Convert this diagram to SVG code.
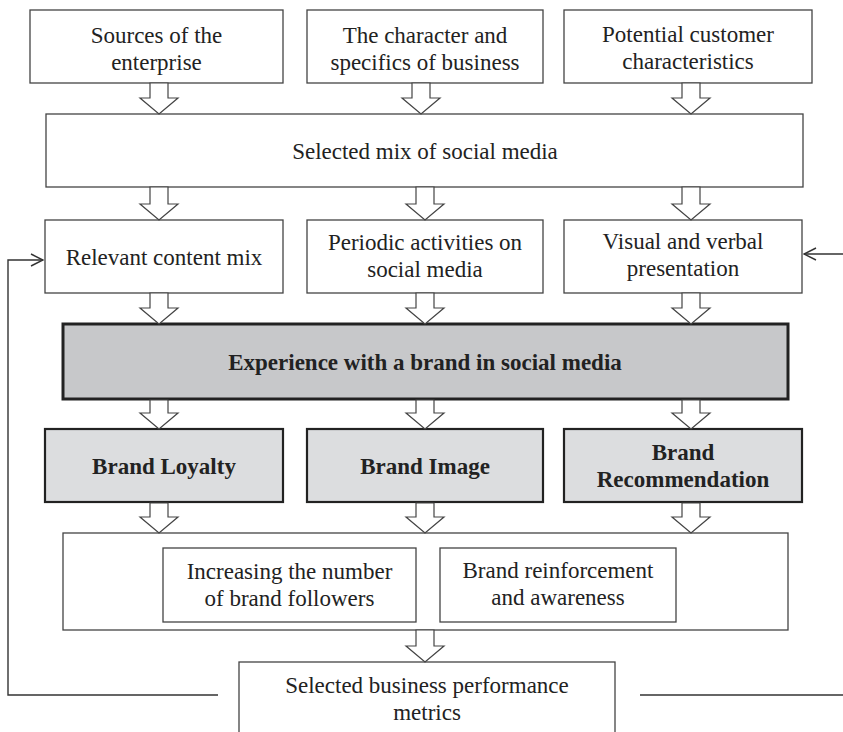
<svg xmlns="http://www.w3.org/2000/svg" width="843" height="732" viewBox="0 0 843 732">
<defs>
<style>
.box{fill:#fff;stroke:#444;stroke-width:1.3}
.exp{fill:#c7c8ca;stroke:#222;stroke-width:3}
.res{fill:#dcdddf;stroke:#222;stroke-width:2.2}
.t{font-family:"Liberation Serif","Times New Roman",serif;font-size:23px;fill:#222;text-anchor:middle}
.b{font-weight:bold}
.arr{fill:#fff;stroke:#444;stroke-width:1.2;stroke-linejoin:miter}
.ln{fill:none;stroke:#333;stroke-width:1.4}
</style>
<marker id="open" viewBox="0 0 14 14" refX="13" refY="7" markerWidth="14" markerHeight="14" markerUnits="userSpaceOnUse" orient="auto">
<path d="M1,1 L13,7 L1,13" fill="none" stroke="#333" stroke-width="1.4"/>
</marker>
</defs>
<rect width="843" height="732" fill="#fff"/>

<g id="n-sources"><rect class="box" x="30" y="10" width="253" height="73"/><text class="t" x="156.5" y="43">Sources of the</text><text class="t" x="156.5" y="70">enterprise</text></g>
<g id="n-character"><rect class="box" x="307" y="10" width="236" height="73"/><text class="t" x="425" y="43">The character and</text><text class="t" x="425" y="70">specifics of business</text></g>
<g id="n-customer"><rect class="box" x="564" y="10" width="248" height="73"/><text class="t" x="688" y="42">Potential customer</text><text class="t" x="688" y="69">characteristics</text></g>

<g id="n-mix"><rect class="box" x="46" y="114" width="757" height="73"/><text class="t" x="425" y="159">Selected mix of social media</text></g>

<g id="n-content"><rect class="box" x="45" y="220" width="238" height="73"/><text class="t" x="164" y="265">Relevant content mix</text></g>
<g id="n-periodic"><rect class="box" x="307" y="220" width="236" height="73"/><text class="t" x="425" y="250">Periodic activities on</text><text class="t" x="425" y="277">social media</text></g>
<g id="n-visual"><rect class="box" x="564" y="220" width="238" height="73"/><text class="t" x="683" y="249">Visual and verbal</text><text class="t" x="683" y="276">presentation</text></g>

<g id="n-experience"><rect class="exp" x="63" y="324" width="725" height="75"/><text class="t b" x="425" y="370">Experience with a brand in social media</text></g>

<g id="n-loyalty"><rect class="res" x="45" y="429" width="238" height="73"/><text class="t b" x="164" y="474">Brand Loyalty</text></g>
<g id="n-image"><rect class="res" x="307" y="429" width="236" height="73"/><text class="t b" x="425" y="474">Brand Image</text></g>
<g id="n-recommend"><rect class="res" x="564" y="429" width="238" height="73"/><text class="t b" x="683" y="460">Brand</text><text class="t b" x="683" y="487">Recommendation</text></g>

<g id="n-outcomes"><rect class="box" x="63" y="533" width="725" height="97"/></g>
<g id="n-followers"><rect class="box" x="163" y="548" width="253" height="74"/><text class="t" x="289.5" y="579">Increasing the number</text><text class="t" x="289.5" y="606">of brand followers</text></g>
<g id="n-awareness"><rect class="box" x="440" y="548" width="236" height="74"/><text class="t" x="558" y="578">Brand reinforcement</text><text class="t" x="558" y="605">and awareness</text></g>

<g id="n-metrics"><rect class="box" x="239" y="662" width="376" height="80"/><text class="t" x="427" y="693">Selected business performance</text><text class="t" x="427" y="720">metrics</text></g>

<g id="connectors">
<!-- block arrows: cx, y0 -> y1 -->
<polygon class="arr" points="150,83 168,83 168,98 178,98 159,114 140,98 150,98"/>
<polygon class="arr" points="412,83 430,83 430,98 440,98 421,114 402,98 412,98"/>
<polygon class="arr" points="682,83 700,83 700,98 710,98 691,114 672,98 682,98"/>

<polygon class="arr" points="150,187 168,187 168,204 178,204 159,220 140,204 150,204"/>
<polygon class="arr" points="416,187 434,187 434,204 444,204 425,220 406,204 416,204"/>
<polygon class="arr" points="682,187 700,187 700,204 710,204 691,220 672,204 682,204"/>

<polygon class="arr" points="150,293 168,293 168,308 178,308 159,324 140,308 150,308"/>
<polygon class="arr" points="416,293 434,293 434,308 444,308 425,324 406,308 416,308"/>
<polygon class="arr" points="682,293 700,293 700,308 710,308 691,324 672,308 682,308"/>

<polygon class="arr" points="150,400 168,400 168,413 178,413 159,429 140,413 150,413"/>
<polygon class="arr" points="416,400 434,400 434,413 444,413 425,429 406,413 416,413"/>
<polygon class="arr" points="682,400 700,400 700,413 710,413 691,429 672,413 682,413"/>

<polygon class="arr" points="150,503 168,503 168,517 178,517 159,533 140,517 150,517"/>
<polygon class="arr" points="416,503 434,503 434,517 444,517 425,533 406,517 416,517"/>
<polygon class="arr" points="682,503 700,503 700,517 710,517 691,533 672,517 682,517"/>

<polygon class="arr" points="416,630 434,630 434,646 444,646 425,662 406,646 416,646"/>

<!-- feedback lines -->
<polyline class="ln" points="218,695 8,695 8,260 43,260" marker-end="url(#open)"/>
<line class="ln" x1="640" y1="695" x2="843" y2="695"/>
<line class="ln" x1="843" y1="254" x2="804" y2="254" marker-end="url(#open)"/>
</g>
</svg>
